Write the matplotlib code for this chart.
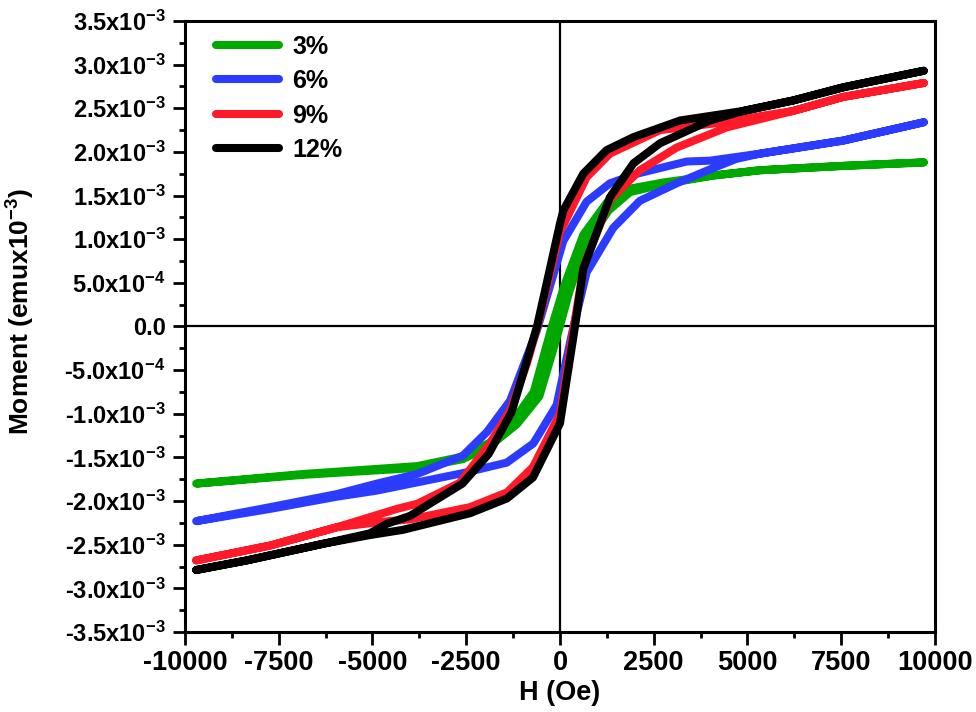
import numpy as np
import matplotlib.pyplot as plt
from matplotlib.ticker import MultipleLocator, FuncFormatter

plt.rcParams['font.family'] = ['Liberation Sans', 'DejaVu Sans']
plt.rcParams['font.weight'] = 'bold'
plt.rcParams['mathtext.fontset'] = 'custom'
plt.rcParams['mathtext.rm'] = 'Liberation Sans:bold'
plt.rcParams['mathtext.bf'] = 'Liberation Sans:bold'
plt.rcParams['mathtext.default'] = 'bf'

# M values in units of 1e-3 emu
# 3%
h3_down = [9700, 7550, 5330, 4090, 2760, 1870, 1250, 620, 100, -250, -700, -1250, -1870, -2590, -3810, -6850, -9700]
m3_down = [1.88, 1.84, 1.79, 1.73, 1.65, 1.58, 1.42, 1.05, 0.45, -0.05, -0.75, -1.08, -1.33, -1.49, -1.60, -1.69, -1.80]
h3_up = [-9700, -6850, -3810, -2590, -1870, -1150, -550, -100, 250, 700, 1300, 1870, 2760, 4090, 5330, 7550, 9700]
m3_up = [-1.80, -1.70, -1.62, -1.52, -1.37, -1.12, -0.80, -0.15, 0.40, 0.95, 1.33, 1.54, 1.63, 1.73, 1.79, 1.84, 1.88]

# 6%
h6_down = [9700, 7550, 5330, 4000, 3380, 2050, 1330, 710, 90, -620, -1330, -1950, -2590, -3810, -4880, -5950, -7730, -9700]
m6_down = [2.34, 2.13, 1.98, 1.90, 1.89, 1.75, 1.64, 1.43, 0.98, -0.05, -0.85, -1.21, -1.48, -1.69, -1.80, -1.92, -2.07, -2.23]
h6_up = [-9700, -7730, -5950, -4880, -2590, -1420, -710, -90, 320, 710, 1420, 2130, 3110, 4000, 4700, 5330, 7550, 9700]
m6_up = [-2.23, -2.09, -1.95, -1.88, -1.68, -1.56, -1.34, -0.90, -0.08, 0.62, 1.13, 1.44, 1.64, 1.80, 1.92, 1.98, 2.13, 2.34]

# 9%
h9_down = [9700, 7550, 6220, 4000, 2670, 1330, 710, 0, -600, -880, -1330, -1870, -2670, -3800, -4350, -5950, -7730, -9700]
m9_down = [2.79, 2.63, 2.47, 2.32, 2.25, 1.98, 1.71, 1.08, 0.0, -0.42, -0.96, -1.34, -1.79, -2.03, -2.09, -2.30, -2.51, -2.68]
h9_up = [-9700, -7730, -5950, -4800, -4000, -2400, -1410, -720, 0, 370, 640, 1330, 2130, 3110, 4440, 6220, 7550, 9700]
m9_up = [-2.68, -2.51, -2.30, -2.24, -2.21, -2.07, -1.90, -1.61, -1.00, 0.0, 0.70, 1.45, 1.79, 2.05, 2.28, 2.47, 2.63, 2.79]

# 12%
h12_down = [9700, 8450, 7550, 6220, 4890, 3200, 1960, 1240, 620, 90, 0, -300, -613, -880, -1290, -1900, -2600, -4000, -4613, -5070, -6320, -8350, -9700]
m12_down = [2.93, 2.82, 2.74, 2.59, 2.47, 2.36, 2.17, 2.02, 1.75, 1.33, 1.18, 0.60, 0.0, -0.39, -0.98, -1.46, -1.80, -2.17, -2.26, -2.37, -2.49, -2.68, -2.79]
h12_up = [-9700, -8350, -6320, -5070, -4190, -2400, -1413, -720, 0, 400, 620, 1330, 1960, 2670, 4000, 4890, 6220, 7550, 8450, 9700]
m12_up = [-2.79, -2.68, -2.49, -2.39, -2.33, -2.14, -1.97, -1.73, -1.11, 0.0, 0.66, 1.48, 1.87, 2.10, 2.36, 2.47, 2.59, 2.74, 2.82, 2.93]

labels = ['3%', '6%', '9%', '12%']
colors = ['#00a800', '#2b3cff', '#ff1a2a', '#000000']
loops = [(h3_down, m3_down, h3_up, m3_up),
         (h6_down, m6_down, h6_up, m6_up),
         (h9_down, m9_down, h9_up, m9_up),
         (h12_down, m12_down, h12_up, m12_up)]

fig = plt.figure(figsize=(9.76, 7.12), dpi=100)
ax = fig.add_axes([0.1895, 0.1124, 0.7685, 0.8581])

for (hd, md, hu, mu), lab, c in zip(loops, labels, colors):
    h = np.concatenate([hd, hu])
    m = np.concatenate([md, mu]) * 1e-3
    ax.plot(h, m, color=c, lw=5.8, label=lab, solid_capstyle='round',
            solid_joinstyle='round', zorder=3)

ax.axhline(0, color='black', lw=1.6, zorder=2)
ax.axvline(0, color='black', lw=1.6, zorder=2)

ax.set_xlim(-10000, 10000)
ax.set_ylim(-3.5e-3, 3.5e-3)
ax.xaxis.set_major_locator(MultipleLocator(2500))
ax.xaxis.set_minor_locator(MultipleLocator(1250))
ax.yaxis.set_major_locator(MultipleLocator(5e-4))
ax.yaxis.set_minor_locator(MultipleLocator(2.5e-4))


def yfmt(v, pos):
    if abs(v) < 1e-12:
        return '0.0'
    e = int(np.floor(np.log10(abs(v)) + 1e-9))
    mant = v / 10 ** e
    return r'%.1fx10$^{\mathbf{%d}}$' % (mant, e)


ax.yaxis.set_major_formatter(FuncFormatter(yfmt))
ax.xaxis.set_major_formatter(FuncFormatter(lambda v, p: '%d' % v))

for s in ax.spines.values():
    s.set_linewidth(2.2)
ax.tick_params(which='major', length=9, width=2, pad=4)
ax.tick_params(axis='y', labelsize=17, pad=5)
ax.tick_params(axis='x', labelsize=19.5)
ax.tick_params(which='minor', length=4.5, width=2)
ax.tick_params(top=False, right=False)
for t in ax.get_xticklabels() + ax.get_yticklabels():
    t.set_fontweight('bold')

ax.set_xlabel('H (Oe)', fontsize=19.5, fontweight='bold')
ax.xaxis.set_label_coords(0.5, -0.078)
ax.set_ylabel(r'Moment (emux10$^{\mathbf{-3}}$)', fontsize=19, fontweight='bold')
ax.yaxis.set_label_coords(-0.197, 0.525)

leg = ax.legend(loc='upper left', bbox_to_anchor=(0.025, 0.998), frameon=False,
                handlelength=2.5, handletextpad=0.55, labelspacing=0.42,
                borderpad=0, prop={'weight': 'bold', 'size': 18})

fig.savefig('out.png', dpi=100)
